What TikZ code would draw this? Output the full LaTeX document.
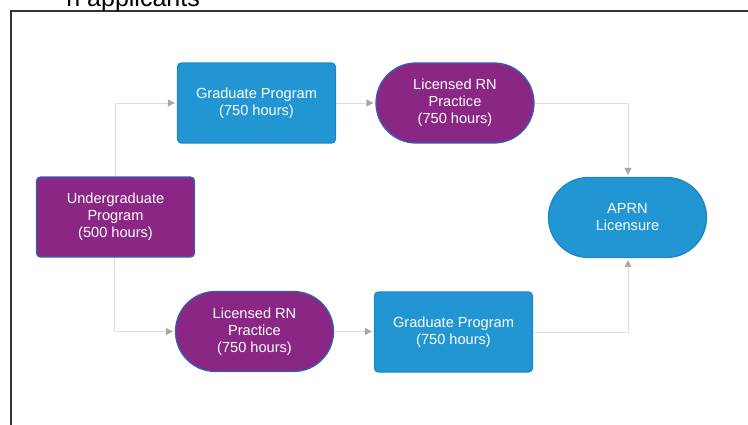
\documentclass[tikz,border=0pt]{standalone}
\usepackage{fontspec}
\setmainfont{Liberation Sans}
\usetikzlibrary{arrows.meta}
\definecolor{nodepurple}{HTML}{8A2684}
\definecolor{purpleedge}{HTML}{3560B0}
\definecolor{nodeblue}{HTML}{2196D2}
\definecolor{blueedge}{HTML}{1E86C4}
\definecolor{linegray}{HTML}{DEDEDE}
\definecolor{tipgray}{HTML}{A8A8A8}
\definecolor{framegray}{HTML}{333333}
\tikzset{
  boxbase/.style={minimum width=158pt, minimum height=80pt, inner sep=0pt,
    align=center, text=white, line width=1.3pt,
    font=\fontsize{14.6}{17}\selectfont},
  bluebox/.style={boxbase, rectangle, rounded corners=4pt, fill=nodeblue, draw=blueedge},
  purplebox/.style={boxbase, rectangle, rounded corners=4pt, fill=nodepurple, draw=purpleedge},
  bluepill/.style={boxbase, rectangle, rounded corners=40pt, fill=nodeblue, draw=blueedge},
  purplepill/.style={boxbase, rectangle, rounded corners=40pt, fill=nodepurple, draw=purpleedge},
  conn/.style={draw=linegray, line width=0.9pt, shorten >=2pt,
    -{Triangle[length=7pt,width=7pt,color=tipgray]}}
}
\begin{document}
\begin{tikzpicture}[x=1pt,y=-1pt]
\useasboundingbox (0,0) rectangle (748,424);
% frame
\draw[framegray, line width=2pt] (11,430) -- (11,11) -- (760,11);
% cut-off heading
\node[anchor=base east, inner sep=0pt, font=\fontsize{25}{30}\selectfont, text=black] (head) at (200,6) {n applicants};
% nodes
\node[purplebox] (ug) at (115.5,217) {Undergraduate\\Program\\(500 hours)};
\node[bluebox] (gp1) at (256.5,103) {Graduate Program\\(750 hours)};
\node[purplepill] (rn1) at (455,103) {Licensed RN\\Practice\\(750 hours)};
\node[bluepill] (aprn) at (627.5,217.5) {APRN\\Licensure};
\node[purplepill] (rn2) at (254.5,331.5) {Licensed RN\\Practice\\(750 hours)};
\node[bluebox] (gp2) at (453.5,332) {Graduate Program\\(750 hours)};
% connectors
\coordinate (c1) at (115,103);
\coordinate (c2) at (114,331.5);
\coordinate (c3) at (628,103);
\coordinate (c4) at (628,332);
\draw[conn] (ug.north -| c1) -- (c1) -- (gp1.west);
\draw[conn] (ug.south -| c2) -- (c2) -- (rn2.west);
\draw[conn] (gp1.east) -- (rn1.west);
\draw[conn] (rn2.east) -- (rn2.east -| gp2.west);
\draw[conn] (rn1.east) -- (c3) -- (c3 |- aprn.north);
\draw[conn] (gp2.east) -- (c4) -- (c4 |- aprn.south);
\end{tikzpicture}
\end{document}
